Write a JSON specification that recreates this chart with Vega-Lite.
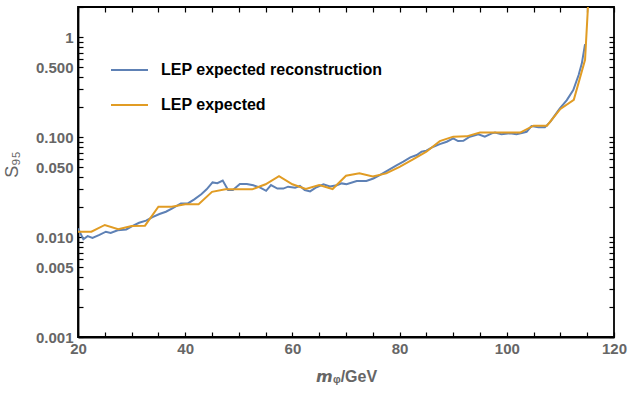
{
  "$schema": "https://vega.github.io/schema/vega-lite/v6.json",
  "width": 536,
  "height": 330,
  "autosize": {"type": "none"},
  "padding": {"left": 78, "top": 7, "right": 15, "bottom": 60},
  "config": {
    "view": {"stroke": "black", "strokeWidth": 1.8},
    "font": "Liberation Sans",
    "axis": {"grid": false, "labelFont": "Liberation Sans", "labelFontSize": 15, "labelFontWeight": "bold", "labelColor": "#666666", "titleFont": "Liberation Sans", "titleColor": "#666666", "titleFontSize": 16, "titleFontWeight": "bold", "labelFlush": false, "labelOverlap": false}
  },
  "layer": [
    {
      "data": {"values": [
        {"m": 20.0, "s": 0.0122, "series": "LEP expected reconstruction"},
        {"m": 21.0, "s": 0.0095, "series": "LEP expected reconstruction"},
        {"m": 21.8, "s": 0.0102, "series": "LEP expected reconstruction"},
        {"m": 22.7, "s": 0.0098, "series": "LEP expected reconstruction"},
        {"m": 24.0, "s": 0.0105, "series": "LEP expected reconstruction"},
        {"m": 25.2, "s": 0.0113, "series": "LEP expected reconstruction"},
        {"m": 26.1, "s": 0.0110, "series": "LEP expected reconstruction"},
        {"m": 27.4, "s": 0.0117, "series": "LEP expected reconstruction"},
        {"m": 29.0, "s": 0.0119, "series": "LEP expected reconstruction"},
        {"m": 30.2, "s": 0.0129, "series": "LEP expected reconstruction"},
        {"m": 31.4, "s": 0.0139, "series": "LEP expected reconstruction"},
        {"m": 32.7, "s": 0.0146, "series": "LEP expected reconstruction"},
        {"m": 33.9, "s": 0.0158, "series": "LEP expected reconstruction"},
        {"m": 35.2, "s": 0.0170, "series": "LEP expected reconstruction"},
        {"m": 36.4, "s": 0.0179, "series": "LEP expected reconstruction"},
        {"m": 37.6, "s": 0.0193, "series": "LEP expected reconstruction"},
        {"m": 39.2, "s": 0.0217, "series": "LEP expected reconstruction"},
        {"m": 40.5, "s": 0.0217, "series": "LEP expected reconstruction"},
        {"m": 41.7, "s": 0.0238, "series": "LEP expected reconstruction"},
        {"m": 43.0, "s": 0.0268, "series": "LEP expected reconstruction"},
        {"m": 44.0, "s": 0.0300, "series": "LEP expected reconstruction"},
        {"m": 45.1, "s": 0.0352, "series": "LEP expected reconstruction"},
        {"m": 46.0, "s": 0.0345, "series": "LEP expected reconstruction"},
        {"m": 47.0, "s": 0.0367, "series": "LEP expected reconstruction"},
        {"m": 48.0, "s": 0.0295, "series": "LEP expected reconstruction"},
        {"m": 48.9, "s": 0.0295, "series": "LEP expected reconstruction"},
        {"m": 50.2, "s": 0.0339, "series": "LEP expected reconstruction"},
        {"m": 51.5, "s": 0.0339, "series": "LEP expected reconstruction"},
        {"m": 52.7, "s": 0.0329, "series": "LEP expected reconstruction"},
        {"m": 54.0, "s": 0.0312, "series": "LEP expected reconstruction"},
        {"m": 55.1, "s": 0.0290, "series": "LEP expected reconstruction"},
        {"m": 56.0, "s": 0.0331, "series": "LEP expected reconstruction"},
        {"m": 57.2, "s": 0.0305, "series": "LEP expected reconstruction"},
        {"m": 58.3, "s": 0.0305, "series": "LEP expected reconstruction"},
        {"m": 59.2, "s": 0.0319, "series": "LEP expected reconstruction"},
        {"m": 60.5, "s": 0.0312, "series": "LEP expected reconstruction"},
        {"m": 61.4, "s": 0.0324, "series": "LEP expected reconstruction"},
        {"m": 62.3, "s": 0.0295, "series": "LEP expected reconstruction"},
        {"m": 63.3, "s": 0.0286, "series": "LEP expected reconstruction"},
        {"m": 64.5, "s": 0.0315, "series": "LEP expected reconstruction"},
        {"m": 65.8, "s": 0.0337, "series": "LEP expected reconstruction"},
        {"m": 67.0, "s": 0.0320, "series": "LEP expected reconstruction"},
        {"m": 68.3, "s": 0.0330, "series": "LEP expected reconstruction"},
        {"m": 69.2, "s": 0.0344, "series": "LEP expected reconstruction"},
        {"m": 70.1, "s": 0.0337, "series": "LEP expected reconstruction"},
        {"m": 72.0, "s": 0.0363, "series": "LEP expected reconstruction"},
        {"m": 73.8, "s": 0.0363, "series": "LEP expected reconstruction"},
        {"m": 75.1, "s": 0.0385, "series": "LEP expected reconstruction"},
        {"m": 76.3, "s": 0.0417, "series": "LEP expected reconstruction"},
        {"m": 77.9, "s": 0.0468, "series": "LEP expected reconstruction"},
        {"m": 79.5, "s": 0.0525, "series": "LEP expected reconstruction"},
        {"m": 80.7, "s": 0.0567, "series": "LEP expected reconstruction"},
        {"m": 82.0, "s": 0.0626, "series": "LEP expected reconstruction"},
        {"m": 83.2, "s": 0.0661, "series": "LEP expected reconstruction"},
        {"m": 84.1, "s": 0.0714, "series": "LEP expected reconstruction"},
        {"m": 85.0, "s": 0.0731, "series": "LEP expected reconstruction"},
        {"m": 86.3, "s": 0.0800, "series": "LEP expected reconstruction"},
        {"m": 87.5, "s": 0.0851, "series": "LEP expected reconstruction"},
        {"m": 88.8, "s": 0.0898, "series": "LEP expected reconstruction"},
        {"m": 90.0, "s": 0.0972, "series": "LEP expected reconstruction"},
        {"m": 90.9, "s": 0.0912, "series": "LEP expected reconstruction"},
        {"m": 91.9, "s": 0.0916, "series": "LEP expected reconstruction"},
        {"m": 93.1, "s": 0.1007, "series": "LEP expected reconstruction"},
        {"m": 94.7, "s": 0.1066, "series": "LEP expected reconstruction"},
        {"m": 95.9, "s": 0.1007, "series": "LEP expected reconstruction"},
        {"m": 97.2, "s": 0.1090, "series": "LEP expected reconstruction"},
        {"m": 97.8, "s": 0.1110, "series": "LEP expected reconstruction"},
        {"m": 99.0, "s": 0.1070, "series": "LEP expected reconstruction"},
        {"m": 100.6, "s": 0.1090, "series": "LEP expected reconstruction"},
        {"m": 101.8, "s": 0.1070, "series": "LEP expected reconstruction"},
        {"m": 102.8, "s": 0.1100, "series": "LEP expected reconstruction"},
        {"m": 103.7, "s": 0.1130, "series": "LEP expected reconstruction"},
        {"m": 104.6, "s": 0.1290, "series": "LEP expected reconstruction"},
        {"m": 105.9, "s": 0.1250, "series": "LEP expected reconstruction"},
        {"m": 107.1, "s": 0.1250, "series": "LEP expected reconstruction"},
        {"m": 108.1, "s": 0.1420, "series": "LEP expected reconstruction"},
        {"m": 109.0, "s": 0.1660, "series": "LEP expected reconstruction"},
        {"m": 109.9, "s": 0.1940, "series": "LEP expected reconstruction"},
        {"m": 111.2, "s": 0.2340, "series": "LEP expected reconstruction"},
        {"m": 112.4, "s": 0.2950, "series": "LEP expected reconstruction"},
        {"m": 113.4, "s": 0.4170, "series": "LEP expected reconstruction"},
        {"m": 114.0, "s": 0.5460, "series": "LEP expected reconstruction"},
        {"m": 114.6, "s": 0.8500, "series": "LEP expected reconstruction"}
      ]},
      "mark": {"type": "line", "strokeWidth": 2, "clip": true},
      "encoding": {
        "x": {"field": "m", "type": "quantitative", "scale": {"domain": [20, 120], "nice": false, "zero": false},
          "axis": {"orient": "bottom", "title": "𝙢ᵩ/GeV", "values": [20,25,30,35,40,45,50,55,60,65,70,75,80,85,90,95,100,105,110,115,120],
            "labelExpr": "datum.value % 20 == 0 ? datum.label : ''",
            "domain": true, "domainColor": "black", "domainWidth": 1.8,
            "ticks": true, "tickSize": -5, "tickColor": "black", "tickWidth": 1.2,
            "labelPadding": 9, "titlePadding": 12}},
        "y": {"field": "s", "type": "quantitative", "scale": {"type": "log", "domain": [0.001, 2], "nice": false},
          "axis": {"orient": "left", "title": "S₉₅", "titleFontWeight": "normal", "titleFontSize": 18, "titleY": 157,
            "values": [0.001,0.002,0.003,0.004,0.005,0.006,0.007,0.008,0.009,0.01,0.02,0.03,0.04,0.05,0.06,0.07,0.08,0.09,0.1,0.2,0.3,0.4,0.5,0.6,0.7,0.8,0.9,1,2],
            "labelExpr": "datum.value == 1 ? '1' : (datum.value == 0.001 || datum.value == 0.005 || datum.value == 0.01 || datum.value == 0.05 || datum.value == 0.1 || datum.value == 0.5) ? format(datum.value, '.3f') : ''",
            "domain": true, "domainColor": "black", "domainWidth": 1.8,
            "ticks": true, "tickSize": -5, "tickColor": "black", "tickWidth": 1.2,
            "labelPadding": 10, "titlePadding": 14}},
        "color": {"field": "series", "type": "nominal",
          "scale": {"domain": ["LEP expected reconstruction", "LEP expected"], "range": ["#5E81B5", "#E19C24"]},
          "legend": {"title": null, "orient": "none", "legendX": 32, "legendY": 55, "padding": 0,
            "symbolType": "stroke", "symbolSize": 1369, "symbolStrokeWidth": 2, "clipHeight": 16, "rowPadding": 19,
            "labelFont": "Liberation Sans", "labelFontSize": 16, "labelFontWeight": "bold", "labelColor": "black", "labelOffset": 12, "labelLimit": 400}}
      }
    },
    {
      "data": {"values": [
        {"m": 20, "s": 0.0113, "series": "LEP expected"},
        {"m": 22.5, "s": 0.0113, "series": "LEP expected"},
        {"m": 25, "s": 0.0132, "series": "LEP expected"},
        {"m": 27.5, "s": 0.0120, "series": "LEP expected"},
        {"m": 30, "s": 0.0129, "series": "LEP expected"},
        {"m": 32.5, "s": 0.0130, "series": "LEP expected"},
        {"m": 35, "s": 0.0201, "series": "LEP expected"},
        {"m": 37.5, "s": 0.0201, "series": "LEP expected"},
        {"m": 40, "s": 0.0213, "series": "LEP expected"},
        {"m": 42.5, "s": 0.0213, "series": "LEP expected"},
        {"m": 45, "s": 0.0283, "series": "LEP expected"},
        {"m": 47.5, "s": 0.0300, "series": "LEP expected"},
        {"m": 50, "s": 0.0300, "series": "LEP expected"},
        {"m": 52.5, "s": 0.0300, "series": "LEP expected"},
        {"m": 55, "s": 0.0337, "series": "LEP expected"},
        {"m": 57.5, "s": 0.0407, "series": "LEP expected"},
        {"m": 60, "s": 0.0337, "series": "LEP expected"},
        {"m": 62.5, "s": 0.0302, "series": "LEP expected"},
        {"m": 65, "s": 0.0331, "series": "LEP expected"},
        {"m": 67.5, "s": 0.0302, "series": "LEP expected"},
        {"m": 70, "s": 0.0410, "series": "LEP expected"},
        {"m": 72.5, "s": 0.0435, "series": "LEP expected"},
        {"m": 75, "s": 0.0404, "series": "LEP expected"},
        {"m": 77.5, "s": 0.0433, "series": "LEP expected"},
        {"m": 80, "s": 0.0504, "series": "LEP expected"},
        {"m": 82.5, "s": 0.0598, "series": "LEP expected"},
        {"m": 85, "s": 0.0714, "series": "LEP expected"},
        {"m": 87.5, "s": 0.0910, "series": "LEP expected"},
        {"m": 90, "s": 0.1010, "series": "LEP expected"},
        {"m": 92.5, "s": 0.1016, "series": "LEP expected"},
        {"m": 95, "s": 0.1110, "series": "LEP expected"},
        {"m": 97.5, "s": 0.1110, "series": "LEP expected"},
        {"m": 100, "s": 0.1110, "series": "LEP expected"},
        {"m": 102.5, "s": 0.1110, "series": "LEP expected"},
        {"m": 105, "s": 0.1300, "series": "LEP expected"},
        {"m": 107.5, "s": 0.1300, "series": "LEP expected"},
        {"m": 110, "s": 0.1910, "series": "LEP expected"},
        {"m": 112.5, "s": 0.2360, "series": "LEP expected"},
        {"m": 114.6, "s": 0.5920, "series": "LEP expected"},
        {"m": 115.5, "s": 4.5, "series": "LEP expected"}
      ]},
      "mark": {"type": "line", "strokeWidth": 2, "clip": true},
      "encoding": {
        "x": {"field": "m", "type": "quantitative", "axis": null},
        "y": {"field": "s", "type": "quantitative", "axis": null},
        "color": {"field": "series", "type": "nominal"}
      }
    },
    {
      "mark": {"type": "rule", "color": "#cccccc", "strokeWidth": 1.5},
      "encoding": {
        "x": {"datum": 20, "type": "quantitative",
          "axis": {"orient": "top", "title": null, "labels": false, "domain": false,
            "ticks": true, "tickSize": -5, "tickColor": "black", "tickWidth": 1.2,
            "values": [20,25,30,35,40,45,50,55,60,65,70,75,80,85,90,95,100,105,110,115,120]}},
        "x2": {"datum": 120},
        "y": {"datum": 1, "type": "quantitative",
          "axis": {"orient": "right", "title": null, "labels": false, "domain": false,
            "ticks": true, "tickSize": -5, "tickColor": "black", "tickWidth": 1.2,
            "values": [0.001,0.002,0.003,0.004,0.005,0.006,0.007,0.008,0.009,0.01,0.02,0.03,0.04,0.05,0.06,0.07,0.08,0.09,0.1,0.2,0.3,0.4,0.5,0.6,0.7,0.8,0.9,1,2]}}
      }
    }
  ],
  "resolve": {"axis": {"x": "independent", "y": "independent"}}
}
